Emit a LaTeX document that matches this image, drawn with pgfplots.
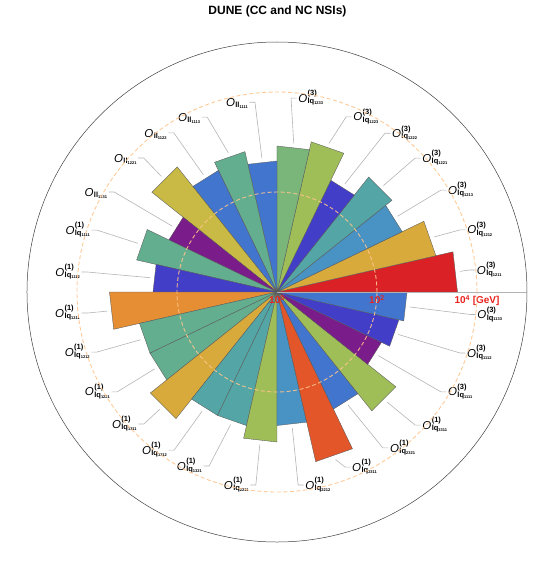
\documentclass[border=0pt]{standalone}
\usepackage{pgfplots}
\pgfplotsset{compat=1.18}
\usepgfplotslibrary{polar}
\usepackage{fontspec}
\setmainfont{Liberation Sans}

\definecolor{cRed}{HTML}{DA2226}
\definecolor{cGold}{HTML}{D8AA3C}
\definecolor{cSteel}{HTML}{4892C4}
\definecolor{cTeal}{HTML}{54A6A6}
\definecolor{cBluePurple}{HTML}{423EC8}
\definecolor{cYGreen}{HTML}{A0BE58}
\definecolor{cGreen}{HTML}{7AB67A}
\definecolor{cBlue}{HTML}{4276CE}
\definecolor{cTealGreen}{HTML}{64AE90}
\definecolor{cOlive}{HTML}{C8BA44}
\definecolor{cPurple}{HTML}{7A1C8A}
\definecolor{cOrange}{HTML}{E68E34}
\definecolor{cOrangeRed}{HTML}{E2562A}
\definecolor{gridOrange}{HTML}{FFC48C}
\definecolor{tickRed}{HTML}{E8231E}
\definecolor{leaderGray}{HTML}{B4B4B4}

% label  O^{sup}_{sub digits}
\newcommand\lab[3]{{\fontsize{11.5}{12}\selectfont\itshape O}\kern0.4pt\raisebox{6.3pt}{\rlap{\fontsize{7.5}{8}\selectfont\bfseries #1}}\raisebox{-1.5pt}{\fontsize{7.5}{8}\selectfont\bfseries #2}\raisebox{-2.2pt}{\fontsize{4}{5}\selectfont\bfseries #3}}

% sector: start angle, end angle, radius (log10 of scale in GeV), colour
\newcommand\sector[4]{\addplot[fill=#4, draw=black!65, line width=0.35pt] coordinates {(#1,0) (#1,#3) (#2,#3)} -- cycle;}

% callouts: bar angle, bar end, label angle, label radius, label
\newcommand\callR[5]{%
  \draw[leaderGray, line width=0.6pt] (axis cs:#1,#2) -- ([xshift=-7pt]axis cs:#3,#4) -- ([xshift=-1.5pt]axis cs:#3,#4);
  \node[anchor=base west, inner sep=0pt, yshift=-4.1pt] at (axis cs:#3,#4) {#5};}
\newcommand\callL[5]{%
  \draw[leaderGray, line width=0.6pt] (axis cs:#1,#2) -- ([xshift=7pt]axis cs:#3,#4) -- ([xshift=1.5pt]axis cs:#3,#4);
  \node[anchor=base east, inner sep=0pt, yshift=-4.1pt] at (axis cs:#3,#4) {#5};}

\begin{document}
\begin{tikzpicture}
\useasboundingbox (-277pt,-278pt) rectangle (279pt,292pt);
\begin{polaraxis}[
  at={(0,0)}, anchor=center,
  width=500pt, height=500pt, scale only axis,
  xmin=0, xmax=360, ymin=0, ymax=5,
  xtick=\empty, ytick={2,4}, yticklabels={},
  ymajorgrids,
  major tick length=0pt,
  major grid style={dash pattern=on 4pt off 2.5pt, color=gridOrange, line width=0.9pt, opacity=0.9},
  x axis line style={black!75, line width=0.5pt},
  y axis line style={black!30, line width=0.5pt},
  axis on top,
  clip=false,
]
\sector{0}{12.857}{3.61}{cRed}
\sector{12.857}{25.714}{3.26}{cGold}
\sector{25.714}{38.571}{2.78}{cSteel}
\sector{38.571}{51.429}{2.94}{cTeal}
\sector{51.429}{64.286}{2.48}{cBluePurple}
\sector{64.286}{77.143}{3.08}{cYGreen}
\sector{77.143}{90}{2.92}{cGreen}
\sector{90}{102.857}{2.62}{cBlue}
\sector{102.857}{115.714}{2.88}{cTealGreen}
\sector{115.714}{128.571}{2.70}{cBlue}
\sector{128.571}{141.429}{3.20}{cOlive}
\sector{141.429}{154.286}{2.40}{cPurple}
\sector{154.286}{167.143}{2.88}{cTealGreen}
\sector{167.143}{180}{2.48}{cBluePurple}
\sector{180}{192.857}{3.35}{cOrange}
\sector{192.857}{205.714}{2.82}{cTealGreen}
\sector{205.714}{218.571}{2.82}{cTealGreen}
\sector{218.571}{231.429}{3.24}{cGold}
\sector{231.429}{244.286}{2.74}{cTeal}
\sector{244.286}{257.143}{2.74}{cTeal}
\sector{257.143}{270}{3.00}{cYGreen}
\sector{270}{282.857}{2.67}{cSteel}
\sector{282.857}{295.714}{3.48}{cOrangeRed}
\sector{295.714}{308.571}{2.60}{cBlue}
\sector{308.571}{321.429}{3.04}{cYGreen}
\sector{321.429}{334.286}{2.32}{cPurple}
\sector{334.286}{347.143}{2.50}{cBluePurple}
\sector{347.143}{360}{2.60}{cBlue}

\callR{6.43}{3.68}{6.3}{4.02}{\lab{(3)}{lq}{1211}}
\callR{19.29}{3.33}{18.1}{4.00}{\lab{(3)}{lq}{1212}}
\callR{32.14}{2.85}{30.8}{3.98}{\lab{(3)}{lq}{1213}}
\callR{45.00}{3.01}{42.7}{3.95}{\lab{(3)}{lq}{1221}}
\callR{57.86}{2.55}{54.1}{3.92}{\lab{(3)}{lq}{1222}}
\callR{70.71}{3.15}{66.5}{3.82}{\lab{(3)}{lq}{1223}}
\callR{83.57}{2.99}{83.8}{3.90}{\lab{(3)}{lq}{1233}}
\callL{96.43}{2.69}{98.7}{3.84}{\lab{}{ll}{1111}}
\callL{109.29}{2.95}{113.7}{3.82}{\lab{}{ll}{1113}}
\callL{122.14}{2.77}{124.7}{3.87}{\lab{}{ll}{1122}}
\callL{135.00}{3.27}{136.3}{3.88}{\lab{}{ll}{1221}}
\callL{147.86}{2.47}{149.5}{3.94}{\lab{}{ll}{1231}}
\callL{160.71}{2.95}{161.7}{3.94}{\lab{(1)}{lq}{1111}}
\callL{173.57}{2.55}{174.2}{3.96}{\lab{(1)}{lq}{1112}}
\callL{186.43}{3.42}{186.1}{3.96}{\lab{(1)}{lq}{1211}}
\callL{199.29}{2.89}{197.8}{3.93}{\lab{(1)}{lq}{1212}}
\callL{212.14}{2.89}{210.9}{3.89}{\lab{(1)}{lq}{1221}}
\callL{225.00}{3.31}{223.3}{3.85}{\lab{(1)}{lq}{1311}}
\callL{237.86}{2.81}{235.2}{3.85}{\lab{(1)}{lq}{1312}}
\callL{250.71}{2.81}{246.7}{3.79}{\lab{(1)}{lq}{1321}}
\callL{263.57}{3.07}{261.7}{3.90}{\lab{(1)}{lq}{2211}}
\callR{276.43}{2.74}{278.3}{3.90}{\lab{(1)}{lq}{2212}}
\callR{289.29}{3.55}{293.2}{3.81}{\lab{(1)}{lq}{2311}}
\callR{302.14}{2.67}{305.9}{3.85}{\lab{(1)}{lq}{2321}}
\callR{315.00}{3.11}{317.5}{3.94}{\lab{(1)}{lq}{3311}}
\callR{327.86}{2.39}{329.7}{3.96}{\lab{(3)}{lq}{1111}}
\callR{340.71}{2.57}{342.2}{3.99}{\lab{(3)}{lq}{1112}}
\callR{353.57}{2.67}{353.6}{4.03}{\lab{(3)}{lq}{1133}}

\node[anchor=north, inner sep=0pt, yshift=-3pt, text=tickRed, font=\fontsize{10}{12}\selectfont\bfseries] at (axis cs:0,0) {10\textsuperscript{0}};
\node[anchor=north, inner sep=0pt, yshift=-3pt, text=tickRed, font=\fontsize{10}{12}\selectfont\bfseries] at (axis cs:0,2) {10\textsuperscript{2}};
\node[anchor=north, inner sep=0pt, yshift=-3pt, text=tickRed, font=\fontsize{10}{12}\selectfont\bfseries] at (axis cs:0,4) {10\textsuperscript{4} [GeV]};
\end{polaraxis}
\node[font=\fontsize{12}{14}\selectfont\bfseries] at (0.5pt,281pt) {DUNE (CC and NC NSIs)};
\end{tikzpicture}
\end{document}
